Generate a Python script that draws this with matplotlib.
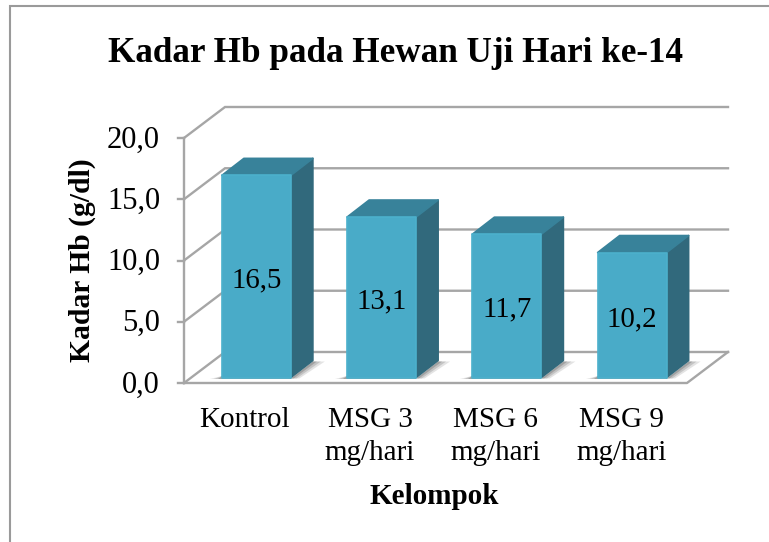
import matplotlib
matplotlib.use('Agg')
from matplotlib import pyplot as plt
from matplotlib.lines import Line2D

kelompok = ['Kontrol', 'MSG 3\nmg/hari', 'MSG 6\nmg/hari', 'MSG 9\nmg/hari']
kadar_hb = [16.5, 13.1, 11.7, 10.2]
label_nilai = ['16,5', '13,1', '11,7', '10,2']
ticks_y = [0, 5, 10, 15, 20]
label_y = ['0,0', '5,0', '10,0', '15,0', '20,0']

plt.rcParams['font.family'] = ['Liberation Serif', 'DejaVu Serif']

W, H = 769, 542
fig = plt.figure(figsize=(W / 100, H / 100), dpi=100)

# marco exterior: solo arriba y a la izquierda
fig.add_artist(Line2D([9.5 / W, 9.5 / W, 1], [0, 1 - 6 / H, 1 - 6 / H], color='#9a9a9a', lw=1.5,
                      transform=fig.transFigure, solid_joinstyle='miter'))

# ejes: cara frontal del suelo
x0, x1, y_base, y_top = 184, 687, 383, 138
ax = fig.add_axes([x0 / W, 1 - y_base / H, (x1 - x0) / W, (y_base - y_top) / H])
ax.set_xlim(0, 4)
ax.set_ylim(0, 20)
ax.axis('off')

px = 4 / (x1 - x0)
py = 20 / (y_base - y_top)
fondo_x = 41 * px
fondo_y = 31 * py
gris = '#a6a6a6'

# paredes y suelo
for t, lab in zip(ticks_y, label_y):
    ax.plot([0, fondo_x, 4 + fondo_x], [t, t + fondo_y, t + fondo_y], color=gris, lw=1.7,
            clip_on=False, solid_joinstyle='miter', zorder=1)
    ax.plot([-6 * px, 0], [t, t], color=gris, lw=1.7, clip_on=False, zorder=1)
    ax.text(-24 * px, t - 2 * py, lab, ha='right', va='center', fontsize=22, color='black')
ax.plot([0, 0], [0, 20], color=gris, lw=1.7, clip_on=False, zorder=1)
ax.plot([0, 4, 4 + fondo_x], [0, 0, fondo_y], color=gris, lw=1.7, clip_on=False, zorder=1)

# barras en falso 3D
ancho = 69 * px
dx = 22 * px
dy = 17 * py
base = 5.5 * py
desplaz = 9.5 * px
for i, v in enumerate(kadar_hb):
    xa = i + 0.5 + desplaz - ancho / 2 - (i * 0.5 * px)
    xb = xa + ancho
    yb = base
    yt = base + v
    # sombra sobre el suelo, a la derecha y por debajo de la barra
    for extra, alfa in [(12, 0.16), (8, 0.22), (4, 0.30)]:
        e = extra * px
        ax.fill([xb, xb + dx, xb + dx + e, xb + e * 0.7],
                [yb - 1 * py, yb + dy - 1 * py, yb + dy - 1 * py, yb - 1 * py],
                color='#555555', alpha=alfa, lw=0, zorder=2, clip_on=False)
        ax.fill([xa - e, xb, xb, xa],
                [yb - 1.5 * py, yb - 1.5 * py, yb + 2 * py, yb + 2 * py],
                color='#555555', alpha=alfa, lw=0, zorder=2, clip_on=False)
    ax.fill([xb, xb + dx, xb + dx, xb], [yb, yb + dy, yt + dy, yt], facecolor='#31697c',
            edgecolor='#31697c', lw=1.2, joinstyle='round', zorder=3, clip_on=False)
    ax.fill([xa, xb, xb + dx, xa + dx], [yt, yt, yt + dy, yt + dy], facecolor='#38829a',
            edgecolor='#38829a', lw=1.2, joinstyle='round', zorder=3, clip_on=False)
    ax.fill([xa, xb, xb, xa], [yb, yb, yt, yt], facecolor='#49abc8', edgecolor='#4cb0cc',
            lw=1.2, joinstyle='round', zorder=4, clip_on=False)
    ax.text((xa + xb) / 2, base + v / 2 - 4 * py, label_nilai[i], ha='center', va='center',
            fontsize=20.8, color='black', zorder=5)
    ax.text(i + 0.5 - 0.02, -24 * py, kelompok[i], ha='center', va='top', fontsize=21,
            linespacing=1.36, color='black', clip_on=False)

fig.text(396 / W, 1 - 54 / H, 'Kadar Hb pada Hewan Uji Hari ke-14', ha='center', va='center',
         fontsize=25.3, fontweight='bold')
fig.text(434 / W, 1 - 496 / H, 'Kelompok', ha='center', va='center', fontsize=21, fontweight='bold')
fig.text(82 / W, 1 - 260 / H, 'Kadar Hb (g/dl)', ha='center', va='center', rotation=90,
         fontsize=21.3, fontweight='bold')

fig.savefig('out.png', dpi=100)
